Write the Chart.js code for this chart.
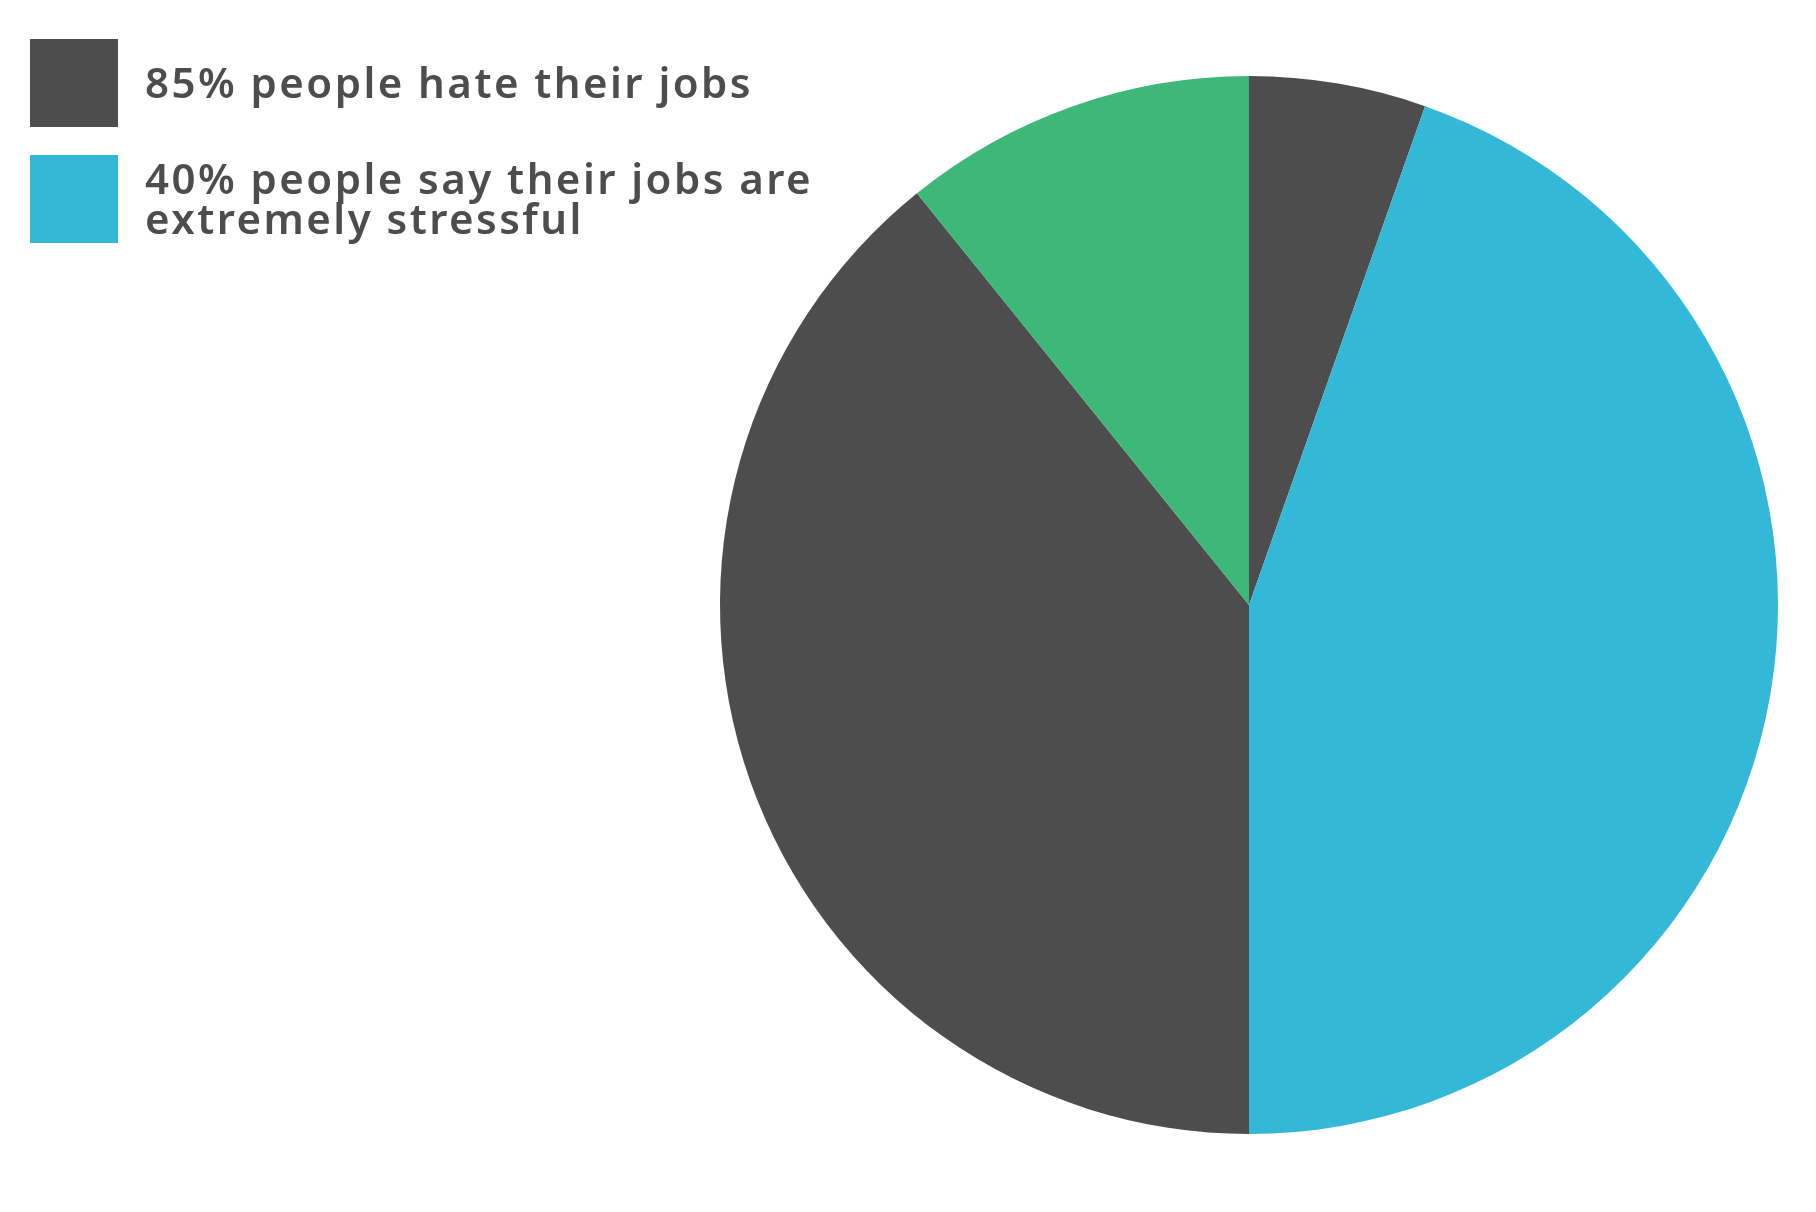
<!DOCTYPE html>
<html>
<head>
<meta charset="utf-8">
<script src="https://cdn.jsdelivr.net/npm/chart.js@4.4.1/dist/chart.umd.min.js"></script>
<style>
html, body { margin: 0; padding: 0; background: #ffffff; }
#wrap { position: relative; width: 1816px; height: 1212px; }
</style>
</head>
<body>
<div id="wrap"><canvas id="pieChart" width="1816" height="1212"></canvas></div>
<script>
// slice values, clockwise from 12 o'clock
var sliceLabels = ['85% people hate their jobs', '40% people say their jobs are extremely stressful', '85% people hate their jobs', 'other'];
var sliceValues = [5.4, 44.6, 39.2, 10.8];
var sliceColors = ['#4d4d4d', '#33b8d7', '#4d4d4d', '#3db879'];

// legend (only two entries shown)
var legendLines = [['85% people hate their jobs'], ['40% people say their jobs are', 'extremely stressful']];
var legendColors = ['#4d4d4d', '#33b8d7'];

var legendPlugin = {
	id: 'sideLegend',
	afterDraw: function(chart) {
		var ctx = chart.ctx;
		var boxTops = [39, 155];
		var baselines = [98, 194];
		ctx.save();
		ctx.font = '600 42px "Noto Sans"';
		ctx.letterSpacing = '2.45px';
		ctx.textBaseline = 'alphabetic';
		for (var i = 0; i < legendLines.length; i++) {
			ctx.fillStyle = legendColors[i];
			ctx.fillRect(30, boxTops[i], 88, 88);
			ctx.fillStyle = '#4d4d4d';
			legendLines[i].forEach(function(line, j) {
				ctx.fillText(line, 145, baselines[i] + j * 40);
			});
		}
		ctx.restore();
	}
};

const ctx = document.getElementById('pieChart').getContext('2d');
const config = {
	type: 'pie',
	data: {
		labels: sliceLabels,
		datasets: [{ data: sliceValues, backgroundColor: sliceColors, borderWidth: 0 }]
	},
	options: {
		responsive: false,
		animation: false,
		layout: { padding: { left: 720, top: 76, right: 38, bottom: 78 } },
		plugins: {
			legend: { display: false },
			tooltip: { enabled: false }
		}
	},
	plugins: [legendPlugin]
};
var pieChart = new Chart(ctx, config);
</script>
</body>
</html>
